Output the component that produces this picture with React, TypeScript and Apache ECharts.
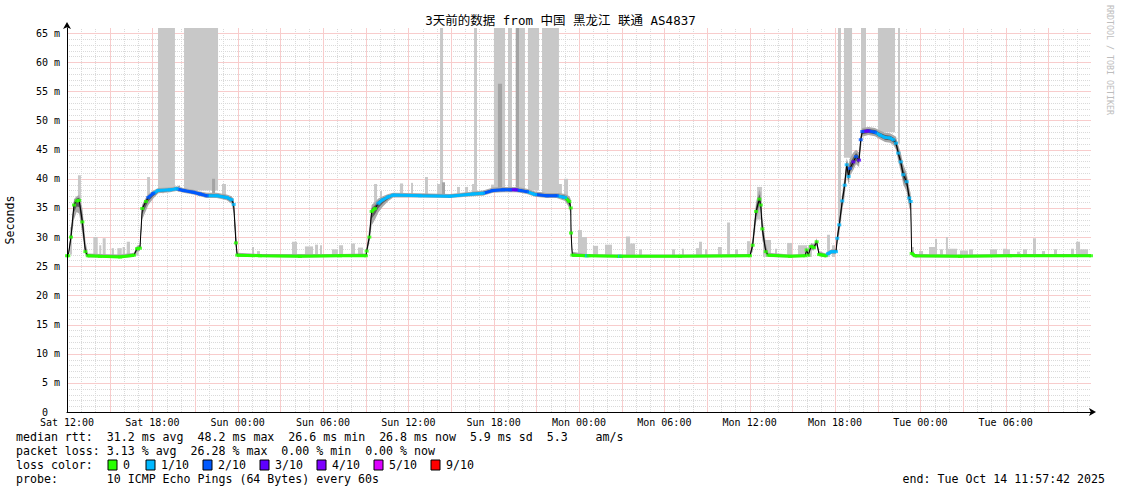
import React, { useEffect, useRef } from 'react';
import * as echarts from 'echarts';

const TITLE = '3天前的数据 from 中国 黑龙江 联通 AS4837';
const xTickLabels = ['Sat 12:00', 'Sat 18:00', 'Sun 00:00', 'Sun 06:00', 'Sun 12:00', 'Sun 18:00', 'Mon 00:00', 'Mon 06:00', 'Mon 12:00', 'Mon 18:00', 'Tue 00:00', 'Tue 06:00'];
const X_MAX = 72; // hours since Sat 12:00
const Y_MAX = 65.86; // ms at top of plot

const lossLevels = [0, 1, 2, 3, 4, 5, 9];
const lossLabels = ['0', '1/10', '2/10', '3/10', '4/10', '5/10', '9/10'];
const lossColors = ['#26ff00', '#00b8ff', '#0059ff', '#5e00ff', '#7e00ff', '#dd00ff', '#ff0000'];

// [hour, median ms, loss level, smoke low, smoke high]
const medianPoints: [number, number, number, number, number][] = [
  [0.00, 26.8, 0, 26.6, 27.1], [0.09, 26.8, 0, 26.6, 27.2], [0.28, 30.0, 0, 29.0, 31.5],
  [0.49, 35.5, 0, 33.0, 36.5], [0.68, 36.2, 0, 34.3, 37.0], [0.86, 36.3, 0, 34.0, 37.2],
  [1.08, 32.6, 0, 30.5, 35.0], [1.29, 27.5, 0, 27.0, 29.5], [1.46, 26.8, 0, 26.5, 27.2],
  [2.32, 26.7, 0, 26.5, 27.1], [3.73, 26.6, 0, 26.4, 27.0], [4.71, 26.9, 0, 26.6, 27.3],
  [4.92, 28.0, 0, 27.5, 28.5], [5.13, 28.1, 0, 27.6, 28.7], [5.29, 34.9, 0, 33.0, 35.6],
  [5.55, 36.1, 0, 34.5, 36.8], [5.72, 36.8, 2, 35.5, 37.4], [6.07, 37.5, 2, 36.6, 38.0],
  [6.42, 38.0, 1, 37.5, 38.4], [7.24, 38.1, 1, 37.7, 38.5], [7.71, 38.3, 1, 37.9, 38.7],
  [8.18, 38.0, 2, 37.6, 38.4], [8.88, 37.7, 2, 37.3, 38.1], [9.35, 37.4, 2, 37.0, 37.8],
  [9.82, 37.1, 2, 36.7, 37.6], [10.53, 37.1, 1, 36.7, 37.6], [11.23, 36.8, 1, 36.3, 37.3],
  [11.58, 36.4, 1, 35.7, 37.0], [11.72, 35.6, 1, 34.0, 36.5], [11.88, 29.0, 0, 27.5, 31.5],
  [11.97, 26.9, 0, 26.6, 27.3], [13.57, 26.8, 0, 26.6, 27.1], [16.38, 26.7, 0, 26.5, 27.1],
  [19.20, 26.8, 0, 26.6, 27.1], [21.02, 26.8, 0, 26.6, 27.2], [21.07, 27.6, 0, 27.0, 28.5],
  [21.26, 30.0, 0, 29.0, 31.5], [21.42, 34.4, 0, 32.0, 35.5], [21.66, 34.9, 0, 33.0, 36.0],
  [21.89, 35.8, 1, 34.2, 36.6], [22.20, 36.4, 1, 35.2, 37.0], [22.59, 36.9, 1, 36.2, 37.4],
  [22.94, 37.2, 1, 36.8, 37.6], [24.82, 37.1, 1, 36.8, 37.5], [26.93, 37.0, 1, 36.7, 37.4],
  [28.55, 37.4, 1, 37.0, 37.8], [29.25, 37.5, 1, 37.1, 38.0], [29.95, 38.0, 2, 37.6, 38.5],
  [30.66, 38.1, 2, 37.7, 38.6], [31.15, 38.1, 2, 37.7, 38.6], [31.60, 38.1, 3, 37.7, 38.6],
  [31.85, 38.0, 2, 37.6, 38.5], [32.34, 37.8, 2, 37.4, 38.3], [32.91, 37.3, 1, 36.9, 37.8],
  [33.73, 37.1, 2, 36.7, 37.6], [34.43, 37.1, 2, 36.7, 37.6], [35.02, 36.8, 1, 36.2, 37.4],
  [35.32, 36.1, 0, 35.0, 37.0], [35.42, 35.0, 0, 33.5, 36.5], [35.44, 30.7, 0, 29.0, 32.5],
  [35.53, 26.9, 0, 26.6, 27.5], [36.45, 26.8, 0, 26.6, 27.1], [36.56, 26.8, 1, 26.6, 27.1],
  [36.67, 26.8, 0, 26.6, 27.1], [38.80, 26.7, 0, 26.5, 27.0], [38.88, 26.7, 1, 26.5, 27.0],
  [38.96, 26.7, 0, 26.5, 27.0], [43.10, 26.7, 0, 26.5, 27.0], [48.02, 26.8, 0, 26.6, 27.1],
  [48.21, 28.6, 0, 27.5, 30.0], [48.45, 34.4, 0, 32.5, 36.0], [48.68, 36.5, 0, 35.0, 38.2],
  [48.78, 35.5, 0, 34.0, 37.5], [48.89, 31.4, 0, 29.5, 33.5], [49.13, 27.5, 0, 27.0, 29.0],
  [49.31, 26.9, 0, 26.6, 27.3], [50.84, 26.7, 0, 26.5, 27.0], [51.90, 26.8, 0, 26.6, 27.1],
  [52.01, 27.8, 0, 27.2, 28.3], [52.12, 26.9, 0, 26.6, 27.3], [52.31, 28.4, 0, 27.8, 29.0],
  [52.52, 28.2, 0, 27.7, 28.8], [52.71, 29.2, 0, 28.5, 29.8], [52.88, 27.0, 0, 26.7, 27.6],
  [53.18, 26.9, 0, 26.6, 27.3], [53.35, 26.8, 0, 26.5, 27.2], [53.53, 27.2, 1, 26.9, 27.6],
  [53.77, 27.5, 1, 27.1, 27.9], [54.07, 27.5, 1, 27.1, 28.0], [54.16, 29.8, 1, 28.5, 31.0],
  [54.30, 32.1, 1, 30.5, 33.5], [54.51, 36.2, 1, 34.5, 37.5], [54.68, 38.9, 1, 37.0, 40.5],
  [54.82, 42.4, 1, 40.5, 43.5], [54.96, 40.4, 1, 39.0, 42.5], [55.05, 41.8, 2, 40.5, 43.5],
  [55.29, 42.9, 3, 41.5, 44.5], [55.48, 43.8, 2, 42.5, 45.0], [55.69, 43.2, 3, 42.0, 44.5],
  [55.81, 46.7, 2, 45.0, 47.8], [55.92, 48.1, 2, 47.2, 48.7], [56.34, 48.2, 3, 47.5, 48.9],
  [56.81, 48.0, 2, 47.3, 48.7], [57.16, 47.5, 1, 46.8, 48.3], [57.52, 47.1, 1, 46.3, 47.9],
  [57.87, 47.0, 1, 46.2, 47.8], [58.10, 46.7, 1, 45.8, 47.5], [58.29, 46.1, 1, 45.0, 47.2],
  [58.45, 44.4, 1, 43.0, 45.8], [58.62, 42.9, 1, 41.3, 44.5], [58.80, 40.7, 1, 39.0, 42.5],
  [59.04, 39.5, 1, 37.8, 41.0], [59.22, 36.7, 1, 35.0, 38.5], [59.32, 36.1, 1, 34.5, 37.5],
  [59.39, 27.2, 0, 26.8, 28.0], [59.63, 26.8, 0, 26.5, 27.1], [62.79, 26.7, 0, 26.5, 27.0],
  [66.30, 26.8, 0, 26.6, 27.1], [72.00, 26.8, 0, 26.6, 27.1],
];

// [hour start, hour end, bottom ms] – smoke that reaches past the top of the graph
const tallBars: [number, number, number][] = [
  [6.40, 7.59, 38.3], [8.23, 10.62, 38.0], [26.23, 26.44, 37.5], [28.62, 28.83, 37.8],
  [30.02, 30.80, 38.3], [31.01, 31.29, 38.3], [31.57, 32.20, 38.2], [32.41, 33.19, 38.0],
  [33.40, 34.59, 37.6], [54.21, 54.42, 32.6], [54.63, 55.20, 43.6], [55.83, 56.18, 48.0],
  [57.02, 58.22, 48.0], [58.43, 58.57, 46.0],
];

// [hour start, hour end, bottom ms, top ms] – light smoke spikes
const smokeSpikes: [number, number, number, number][] = [
  [0.21, 0.35, 27.0, 31.7], [0.77, 0.98, 36.0, 40.6], [1.85, 2.16, 26.6, 30.0], [2.27, 2.41, 26.6, 28.6],
  [2.51, 2.72, 26.6, 29.8], [3.14, 3.30, 26.6, 28.1], [3.54, 3.85, 26.6, 28.1], [3.91, 4.08, 26.6, 28.3],
  [4.20, 4.43, 26.6, 29.2], [4.85, 5.04, 26.8, 28.3], [5.63, 5.84, 36.0, 40.3], [6.68, 6.82, 37.5, 39.0],
  [9.07, 9.21, 37.3, 38.8], [10.90, 11.18, 36.8, 39.1], [13.01, 13.15, 26.6, 28.3], [13.36, 13.57, 26.6, 27.6],
  [15.82, 16.17, 26.6, 29.2], [16.73, 17.30, 26.6, 28.4], [17.44, 17.65, 26.6, 28.7], [17.79, 17.93, 26.6, 28.6],
  [18.63, 19.05, 26.6, 27.9], [19.13, 19.41, 26.6, 28.6], [19.97, 20.25, 26.6, 28.9], [20.46, 20.81, 26.6, 28.2],
  [21.59, 21.80, 35.0, 39.1], [22.01, 22.15, 36.4, 37.9], [23.41, 23.63, 37.0, 39.2], [24.19, 24.33, 37.0, 39.3],
  [25.17, 25.38, 37.0, 40.3], [26.02, 26.37, 37.0, 39.1], [27.42, 27.63, 37.0, 38.6], [27.98, 28.20, 37.0, 38.6],
  [28.48, 28.83, 37.2, 39.1], [29.81, 30.02, 37.6, 39.0], [34.52, 34.80, 37.0, 39.1], [34.95, 35.23, 36.5, 40.0],
  [35.93, 36.21, 26.6, 31.2], [36.21, 36.56, 26.6, 30.0], [36.98, 37.34, 26.6, 28.5], [37.83, 38.32, 26.6, 28.7],
  [39.30, 39.59, 26.6, 30.1], [39.59, 39.94, 26.6, 28.9], [40.22, 40.43, 26.6, 27.9], [42.54, 42.75, 26.6, 27.9],
  [43.24, 43.38, 26.6, 28.0], [44.23, 44.44, 26.6, 28.1], [44.44, 44.65, 26.6, 29.2], [44.86, 45.00, 26.6, 27.9],
  [45.77, 46.05, 26.6, 28.3], [46.41, 46.62, 26.6, 32.5], [46.97, 47.18, 26.6, 27.9], [47.81, 48.02, 26.6, 29.3],
  [48.52, 48.87, 33.0, 38.6], [48.94, 49.50, 26.6, 29.5], [49.78, 49.92, 26.6, 28.0], [50.63, 50.98, 26.6, 29.0],
  [51.40, 52.03, 26.6, 28.6], [52.10, 52.38, 26.6, 28.6], [53.44, 53.65, 26.6, 30.4], [53.79, 54.00, 26.6, 28.6],
  [59.41, 59.55, 26.6, 28.3], [59.91, 60.19, 26.6, 27.6], [60.61, 61.03, 26.6, 28.3], [61.03, 61.17, 26.6, 29.7],
  [61.38, 61.59, 26.6, 27.9], [61.80, 61.94, 26.6, 30.0], [61.94, 62.58, 26.6, 28.0], [62.79, 63.35, 26.6, 27.7],
  [63.42, 63.70, 26.6, 27.9], [64.90, 65.39, 26.6, 27.9], [65.81, 66.09, 26.6, 28.0], [66.09, 66.30, 26.6, 27.9],
  [66.80, 67.01, 26.6, 27.5], [67.22, 67.50, 26.6, 27.9], [67.92, 68.13, 26.6, 29.8], [68.55, 68.77, 26.6, 27.6],
  [69.40, 69.61, 26.6, 27.9], [70.59, 70.80, 26.6, 28.0], [70.95, 71.23, 26.6, 29.2], [71.23, 71.79, 26.6, 27.9],
];

// [hour start, hour end, bottom ms, top ms] – darker smoke spikes
const darkSpikes: [number, number, number, number][] = [
  [7.80, 7.95, 37.8, 38.8], [10.20, 10.41, 37.0, 40.0], [26.37, 26.58, 37.0, 39.4],
  [30.30, 30.59, 38.0, 56.3], [31.55, 31.78, 38.0, 65.86],
];

const rttRow: [number, string][] = [[0, 'median rtt:'], [13, '31.2 ms avg'], [26, '48.2 ms max'], [39, '26.6 ms min'], [52, '26.8 ms now'], [65, '5.9 ms sd'], [76, '5.3'], [83, 'am/s']];
const lossRow: [number, string][] = [[0, 'packet loss:'], [13, '3.13 % avg'], [25, '26.28 % max'], [38, '0.00 % min'], [50, '0.00 % now']];
const probeRow: [number, string][] = [[0, 'probe:'], [13, '10 ICMP Echo Pings (64 Bytes) every 60s']];
const END_TEXT = 'end: Tue Oct 14 11:57:42 2025';

const FONT = "'DejaVu Sans Mono', 'Noto Sans CJK SC', monospace";
const MINOR = '#dadada';
const MAJOR = '#f8cccc';
const STEEP = 2.4; // ms per hour; steeper segments are drawn black only

function levelColor(l: number) {
  return lossColors[lossLevels.indexOf(l)];
}

function rectItem(api: any, h0: number, h1: number, b: number, t: number, fill: string) {
  const a = api.coord([h0, t]);
  const c = api.coord([h1, b]);
  return { type: 'rect', shape: { x: a[0], y: a[1], width: Math.max(1, c[0] - a[0]), height: c[1] - a[1] }, style: { fill } };
}

export default function App() {
  const ref = useRef<HTMLDivElement>(null);
  useEffect(() => {
    if (!ref.current) return;
    const chart = echarts.init(ref.current, null, { renderer: 'svg' });

    const colored = lossLevels.map((lv) => {
      const data: any[] = [];
      for (let i = 1; i < medianPoints.length; i++) {
        const [h0, m0] = medianPoints[i - 1];
        const [h1, m1, l1] = medianPoints[i];
        if (l1 !== lv) continue;
        if (Math.abs(m1 - m0) > STEEP * (h1 - h0)) continue;
        data.push([h0, m0], [h1, m1], [(h0 + h1) / 2, null]);
      }
      return {
        type: 'line', data, symbol: 'none', connectNulls: false, z: 6, silent: true,
        lineStyle: { color: levelColor(lv), width: 3 },
      };
    });

    const charW = 11.6 * 0.602;
    const legendTexts: any[] = [];
    const addRow = (row: [number, string][], y: number) => {
      row.forEach(([col, text]) => {
        legendTexts.push({ type: 'text', x: 16 + col * charW, y, style: { text, fill: '#000', fontSize: 11.6, fontFamily: FONT, verticalAlign: 'middle' } });
      });
    };
    addRow(rttRow, 437);
    addRow(lossRow, 451);
    addRow([[0, 'loss color:']], 465);
    addRow(probeRow, 479);
    const boxXs = [108, 146, 203, 260, 317, 374, 431];
    lossLabels.forEach((lab, i) => {
      legendTexts.push({ type: 'rect', shape: { x: boxXs[i], y: 460, width: 9, height: 10 }, style: { fill: lossColors[i], stroke: '#000', lineWidth: 1 } });
      legendTexts.push({ type: 'text', x: boxXs[i] + 15, y: 465, style: { text: lab, fill: '#000', fontSize: 11.6, fontFamily: FONT, verticalAlign: 'middle' } });
    });
    legendTexts.push({ type: 'text', x: 1105, y: 479, style: { text: END_TEXT, fill: '#000', fontSize: 11.6, fontFamily: FONT, align: 'right', verticalAlign: 'middle' } });
    legendTexts.push({ type: 'text', x: 10, y: 220, rotation: Math.PI / 2, style: { text: 'Seconds', fill: '#000', fontSize: 11.6, fontFamily: FONT, align: 'center', verticalAlign: 'middle' } });
    legendTexts.push({ type: 'text', x: 1110, y: 60, rotation: -Math.PI / 2, style: { text: 'RRDTOOL / TOBI OETIKER', fill: '#bdbdbd', fontSize: 8.3, fontFamily: FONT, align: 'center', verticalAlign: 'middle' } });

    const gridLine = (x1: number, y1: number, x2: number, y2: number, color: string, dash: number[] | null) => ({
      type: 'line', shape: { x1, y1, x2, y2 },
      style: dash ? { stroke: color, lineWidth: 1, lineDash: dash } : { stroke: color, lineWidth: 1 },
    });

    chart.setOption({
      animation: false,
      backgroundColor: '#fff',
      title: {
        text: TITLE, left: 'center', top: 9,
        textStyle: { fontSize: 12.5, fontWeight: 'normal', fontFamily: FONT, color: '#000' },
      },
      grid: { left: 67, right: 30, top: 28, bottom: 82 },
      xAxis: {
        type: 'value', min: 0, max: X_MAX, interval: 1, z: 10,
        axisLine: { show: true, lineStyle: { color: '#000', width: 1 }, symbol: ['none', 'arrow'], symbolSize: [6, 7], symbolOffset: [0, 5] },
        axisTick: { show: false },
        axisLabel: {
          showMaxLabel: false, margin: 5, color: '#000', fontSize: 10, fontFamily: FONT,
          formatter: (v: number) => { const r = Math.round(v); return r % 6 === 0 ? (xTickLabels[r / 6] ?? '') : ''; },
        },
        splitLine: { show: false },
      },
      yAxis: {
        type: 'value', min: 0, max: Y_MAX, interval: 1, z: 10,
        axisLine: { show: true, lineStyle: { color: '#000', width: 1 }, symbol: ['none', 'arrow'], symbolSize: [6, 7], symbolOffset: [0, 6] },
        axisTick: { show: false },
        axisLabel: {
          showMaxLabel: false, margin: 7, color: '#000', fontSize: 10, fontFamily: FONT,
          formatter: (v: number) => { const r = Math.round(v); if (r === 0) return '{z|0}'; return r % 5 === 0 ? `${r} m` : ''; },
          rich: { z: { padding: [0, 12, 0, 0], fontSize: 10, fontFamily: FONT, color: '#000' } },
        },
        splitLine: { show: false },
      },
      graphic: legendTexts,
      series: [
        {
          // grid: dotted grey line at every hour / ms, red every 3 h and every 5 ms
          type: 'custom', z: 0, silent: true, data: [[0, 0]], encode: { x: 0, y: 1 },
          renderItem: (p: any, api: any) => {
            const minor: any[] = [];
            const major: any[] = [];
            for (let h = 1; h < X_MAX; h++) {
              const a = api.coord([h, 0]);
              const b = api.coord([h, Y_MAX]);
              const x = Math.round(a[0]) + 0.5;
              if (h % 3 === 0) major.push(gridLine(x, a[1], x, b[1], MAJOR, null));
              else minor.push(gridLine(x, a[1], x, b[1], MINOR, [1, 1]));
            }
            for (let m = 1; m < Y_MAX; m++) {
              const a = api.coord([0, m]);
              const b = api.coord([X_MAX, m]);
              const y = Math.round(a[1]) + 0.5;
              if (m % 5 === 0) major.push(gridLine(a[0], y, b[0], y, MAJOR, null));
              else minor.push(gridLine(a[0], y, b[0], y, MINOR, [1, 1]));
            }
            return { type: 'group', children: minor.concat(major) };
          },
        },
        {
          type: 'custom', z: 1, silent: true, data: tallBars, encode: { x: [0, 1], y: 2 },
          renderItem: (p: any, api: any) => rectItem(api, api.value(0), api.value(1), api.value(2), Y_MAX, '#c8c8c8'),
        },
        {
          type: 'custom', z: 2, silent: true, data: smokeSpikes, encode: { x: [0, 1], y: [2, 3] },
          renderItem: (p: any, api: any) => rectItem(api, api.value(0), api.value(1), api.value(2), api.value(3), '#c8c8c8'),
        },
        {
          type: 'custom', z: 3, silent: true, data: darkSpikes, encode: { x: [0, 1], y: [2, 3] },
          renderItem: (p: any, api: any) => rectItem(api, api.value(0), api.value(1), api.value(2), api.value(3), '#a4a4a4'),
        },
        {
          type: 'custom', z: 4, silent: true, data: [[0, 30]], encode: { x: 0, y: 1 },
          renderItem: (p: any, api: any) => {
            const up = medianPoints.map((m) => api.coord([m[0], m[4]]));
            const lo = medianPoints.map((m) => api.coord([m[0], m[3]])).reverse();
            const iup = medianPoints.map((m) => api.coord([m[0], (m[1] + m[4]) / 2]));
            const ilo = medianPoints.map((m) => api.coord([m[0], (m[1] + m[3]) / 2])).reverse();
            return {
              type: 'group',
              children: [
                { type: 'polygon', shape: { points: up.concat(lo) }, style: { fill: '#a9a9a9' } },
                { type: 'polygon', shape: { points: iup.concat(ilo) }, style: { fill: '#5c5c5c' } },
              ],
            };
          },
        },
        {
          type: 'line', z: 5, silent: true, symbol: 'none',
          data: medianPoints.map((m) => [m[0], m[1]]),
          lineStyle: { color: '#000', width: 1 },
        },
        ...colored,
        {
          type: 'scatter', z: 7, silent: true, symbol: 'rect', symbolSize: [4, 3],
          data: medianPoints.map((m) => ({ value: [m[0], m[1]], itemStyle: { color: levelColor(m[2]) } })),
        },
      ],
    });
    return () => chart.dispose();
  }, []);
  return <div ref={ref} style={{ position: 'fixed', left: 0, top: 0, width: 1121, height: 494, background: '#fff' }} />;
}
